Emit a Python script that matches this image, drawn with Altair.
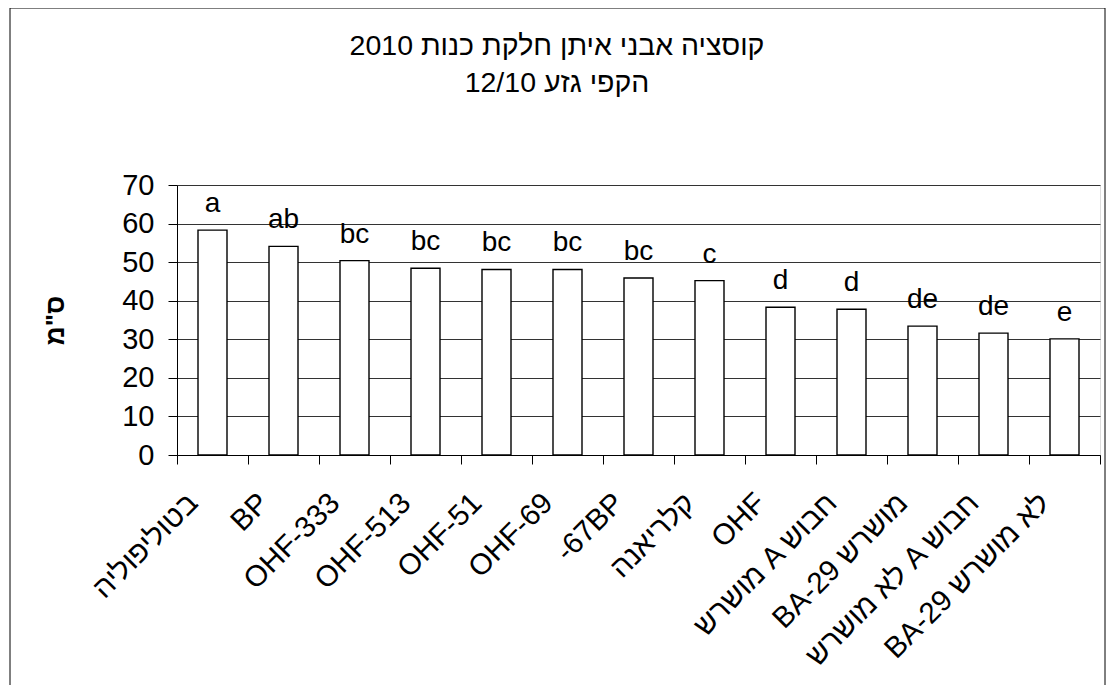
import altair as alt
import pandas as pd

TITLE_LINES = ["קוסציה אבני איתן חלקת כנות 2010", "הקפי גזע 12/10"]
Y_TITLE = 'ס"מ'
CATEGORIES = ["בטוליפוליה", "BP", "OHF-333", "OHF-513", "OHF-51", "OHF-69", "-67BP",
              "קלריאנה", "OHF", "מושרש A חבוש", "BA-29 מושרש", "לא מושרש A חבוש", "BA-29 לא מושרש"]
VALUES = [58.3, 54.1, 50.4, 48.4, 48.1, 48.1, 45.9, 45.2, 38.3, 37.8, 33.4, 31.6, 30.1]
LETTERS = ["a", "ab", "bc", "bc", "bc", "bc", "bc", "c", "d", "d", "de", "de", "e"]
Y_TICKS = [0, 10, 20, 30, 40, 50, 60, 70]

FONT = "Liberation Sans"

df = pd.DataFrame({"cat": CATEGORIES, "value": VALUES, "letter": LETTERS})

x_enc = alt.X("cat:N", sort=CATEGORIES,
              scale=alt.Scale(paddingInner=0, paddingOuter=0),
              axis=alt.Axis(title=None, labelAngle=-45, labelAlign="right", labelBaseline="middle",
                            labelFontSize=29.5, labelFont=FONT, labelColor="black",
                            labelPadding=34, labelOffset=-20, labelLimit=0, labelOverlap=False,
                            labelBound=False, tickBand="extent", tickSize=9, tickColor="black",
                            domainColor="black", domainWidth=1, tickWidth=1, grid=False))
y_enc = alt.Y("value:Q", scale=alt.Scale(domain=[0, 70], nice=False, zero=True),
              axis=alt.Axis(values=Y_TICKS, title=Y_TITLE, titleFont=FONT, titleFontSize=26,
                            titleFontWeight="bold", titleColor="black", titleAngle=270,
                            titleX=-122, titleY=135, titleAlign="center", titleBaseline="middle",
                            labelFontSize=29, labelFont=FONT, labelColor="black", labelPadding=14,
                            labelOverlap=False, labelFlush=False,
                            tickSize=9, tickColor="black", domainColor="black",
                            grid=True, gridColor="#333333", gridWidth=1))

base = alt.Chart(df).encode(x=x_enc, y=y_enc)
bars = base.mark_bar(fill="white", stroke="black", strokeWidth=1.4, size=29)
letters = base.mark_text(fontSize=28, font=FONT, color="black", baseline="alphabetic", dy=-18).encode(
    text="letter:N")

one = pd.DataFrame({"k": [0]})
title = alt.Chart(one).mark_text(fontSize=28.5, font=FONT, color="black", align="center",
                                 baseline="alphabetic", lineBreak="\n", lineHeight=37).encode(
    x=alt.value(380), y=alt.value(-130), text=alt.value("\n".join(TITLE_LINES)))
border = alt.Chart(one).mark_rect(fill=None, stroke="black", strokeWidth=1).encode(
    x=alt.value(-167), x2=alt.value(928), y=alt.value(-177), y2=alt.value(504))

chart = alt.layer(bars, letters, title, border).properties(
    width=923, height=270,
    autosize=alt.AutoSizeParams(type="none"),
    padding={"left": 169, "top": 177, "right": 7, "bottom": 230},
).configure_view(strokeWidth=0, stroke="transparent").configure(font=FONT)

chart.save("out.html", embed_options={"renderer": "svg", "actions": False})
